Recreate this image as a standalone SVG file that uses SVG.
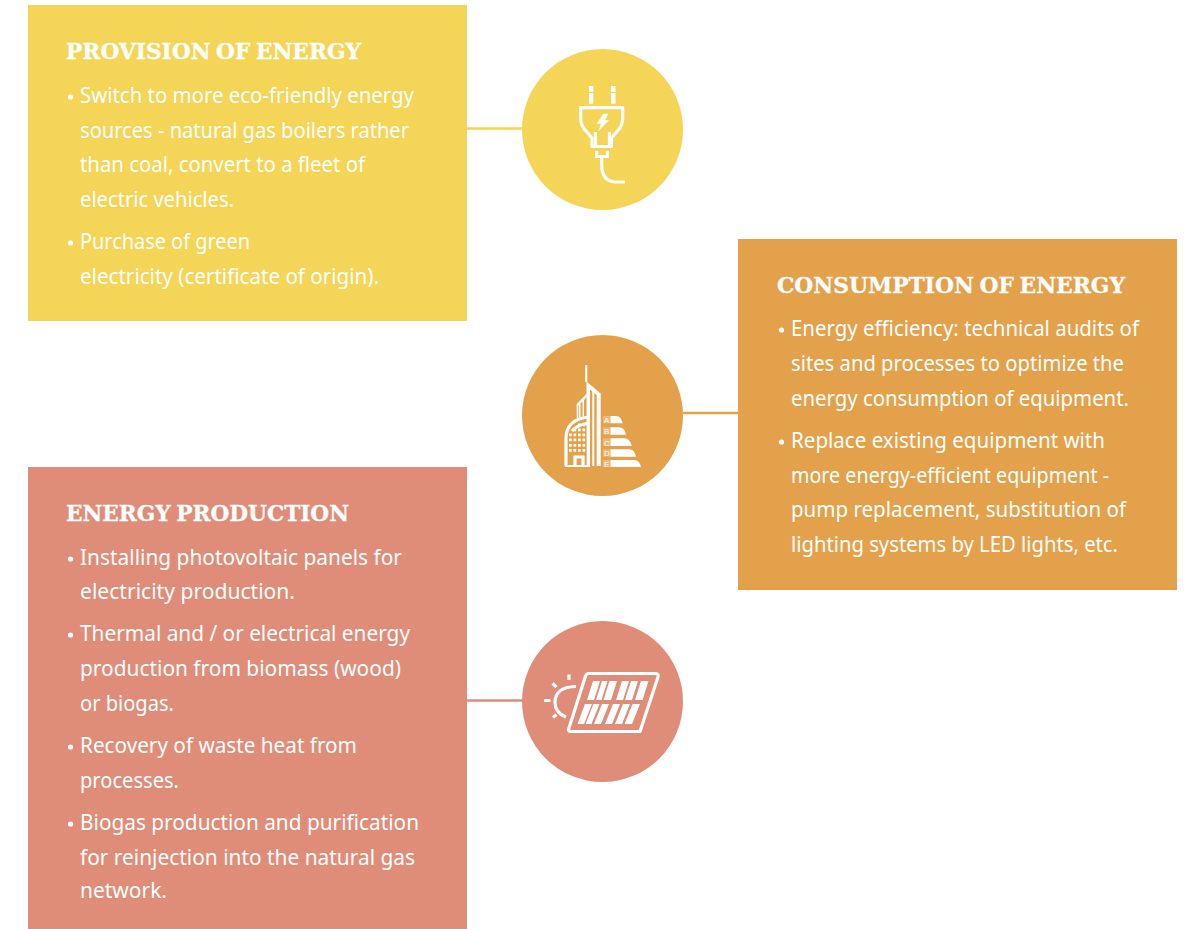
<svg xmlns="http://www.w3.org/2000/svg" width="1187" height="929" viewBox="0 0 1187 929">
<style>
text{fill:#fff}
.h{font-family:"DejaVu Serif",serif;font-weight:700;font-size:21.500px;word-spacing:-2px;stroke:#fff;stroke-width:.3}
.b{font-family:"Noto Sans","Open Sans",sans-serif;font-size:21.500px}
.i{fill:none;stroke:#fff;stroke-width:3.200}
.f{fill:#fff;stroke:none}
.l{font-family:"Liberation Sans",sans-serif;font-size:8px;fill:#fff}
.d{fill:#fff}
</style>
<rect width="1187" height="929" fill="#fff"/>
<g id="connectors">
<line x1="467" y1="128.500" x2="523" y2="128.500" stroke="#F5D557" stroke-width="2.500"/>
<line x1="683" y1="413" x2="738" y2="413" stroke="#E4A14B" stroke-width="2.500"/>
<line x1="467" y1="700.500" x2="523" y2="700.500" stroke="#DF8D78" stroke-width="2.500"/>
</g>
<g id="provision">
<rect x="28" y="5" width="439" height="316" fill="#F5D557"/>
<text class="h" x="66" y="59" textLength="295" lengthAdjust="spacingAndGlyphs">PROVISION OF ENERGY</text>
<g class="b">
<circle class="d" cx="70.500" cy="97" r="2.600"/>
<text x="80" y="103" textLength="334" lengthAdjust="spacingAndGlyphs">Switch to more eco-friendly energy</text>
<text x="80" y="138" textLength="329" lengthAdjust="spacingAndGlyphs">sources - natural gas boilers rather</text>
<text x="80" y="172" textLength="285" lengthAdjust="spacingAndGlyphs">than coal, convert to a fleet of</text>
<text x="80" y="207" textLength="154" lengthAdjust="spacingAndGlyphs">electric vehicles.</text>
<circle class="d" cx="70.500" cy="243" r="2.600"/>
<text x="80" y="249" textLength="170" lengthAdjust="spacingAndGlyphs">Purchase of green</text>
<text x="80" y="284" textLength="299" lengthAdjust="spacingAndGlyphs">electricity (certificate of origin).</text>
</g>
</g>
<g id="consumption">
<rect x="738" y="239" width="439" height="351" fill="#E4A14B"/>
<text class="h" x="777" y="293" textLength="348" lengthAdjust="spacingAndGlyphs">CONSUMPTION OF ENERGY</text>
<g class="b">
<circle class="d" cx="781.500" cy="330" r="2.600"/>
<text x="791" y="336" textLength="348" lengthAdjust="spacingAndGlyphs">Energy efficiency: technical audits of</text>
<text x="791" y="371" textLength="333" lengthAdjust="spacingAndGlyphs">sites and processes to optimize the</text>
<text x="791" y="406" textLength="338" lengthAdjust="spacingAndGlyphs">energy consumption of equipment.</text>
<circle class="d" cx="781.500" cy="442" r="2.600"/>
<text x="791" y="448" textLength="314" lengthAdjust="spacingAndGlyphs">Replace existing equipment with</text>
<text x="791" y="483" textLength="318" lengthAdjust="spacingAndGlyphs">more energy-efficient equipment -</text>
<text x="791" y="517" textLength="335" lengthAdjust="spacingAndGlyphs">pump replacement, substitution of</text>
<text x="791" y="552" textLength="327" lengthAdjust="spacingAndGlyphs">lighting systems by LED lights, etc.</text>
</g>
</g>
<g id="production">
<rect x="28" y="467" width="439" height="462" fill="#DF8D78"/>
<text class="h" x="66" y="521" textLength="283" lengthAdjust="spacingAndGlyphs">ENERGY PRODUCTION</text>
<g class="b">
<circle class="d" cx="70.500" cy="559" r="2.600"/>
<text x="80" y="565" textLength="322" lengthAdjust="spacingAndGlyphs">Installing photovoltaic panels for</text>
<text x="80" y="599" textLength="215" lengthAdjust="spacingAndGlyphs">electricity production.</text>
<circle class="d" cx="70.500" cy="635" r="2.600"/>
<text x="80" y="641" textLength="330" lengthAdjust="spacingAndGlyphs">Thermal and / or electrical energy</text>
<text x="80" y="676" textLength="321" lengthAdjust="spacingAndGlyphs">production from biomass (wood)</text>
<text x="80" y="711" textLength="94" lengthAdjust="spacingAndGlyphs">or biogas.</text>
<circle class="d" cx="70.500" cy="747" r="2.600"/>
<text x="80" y="753" textLength="277" lengthAdjust="spacingAndGlyphs">Recovery of waste heat from</text>
<text x="80" y="788" textLength="99" lengthAdjust="spacingAndGlyphs">processes.</text>
<circle class="d" cx="70.500" cy="824" r="2.600"/>
<text x="80" y="830" textLength="339" lengthAdjust="spacingAndGlyphs">Biogas production and purification</text>
<text x="80" y="865" textLength="335" lengthAdjust="spacingAndGlyphs">for reinjection into the natural gas</text>
<text x="80" y="898" textLength="87" lengthAdjust="spacingAndGlyphs">network.</text>
</g>
</g>
<g id="plug-icon">
<circle cx="602.500" cy="129.500" r="80.500" fill="#F5D557"/>
<path class="f" d="M589 86h4.300v6H589zM589 93h4.300v10.700H589zM611 86h4.500v6H611zM611 93h4.500v10.700H611z"/>
<path class="i" stroke-linejoin="round" d="M580.700 107.700H622.700V118Q622.700 126 617 131.500L611.500 138V146.500H592V138L586.500 131.500Q580.700 126 580.700 118Z"/>
<path class="i" stroke-width="2" d="M595.500 132V145M609.500 132V145"/>
<path class="f" d="M603.300 113.700H608.300L605 120.300H609L598.300 131.300L601 123.700H596.700Z"/>
<path class="i" d="M596.700 151V156.500H607.300V151M601.700 157V165Q601.700 182 617 182H625"/>
</g>
<g id="building-icon">
<circle cx="602.500" cy="415.500" r="80.500" fill="#E4A14B"/>
<path class="f" d="M585.200 365H587.300V382H585.200Z"/>
<path class="f" d="M586.500 381.500L600.700 393.500V466H596.700V395L590 389.500V466H586.700Z"/>
<rect class="f" x="592.300" y="391" width="2" height="75"/>
<path class="f" d="M576.700 404L586.700 393.500V397L584 400V416H582.500V401.500L580.500 403.500V417H579V405L578.300 406V418H576.700Z"/>
<path class="i" stroke-width="2.300" d="M566 466V439Q566 419 589 417"/>
<path class="i" stroke-width="1.800" d="M590 423Q578 424 572 431"/>
<path class="f" d="M565 465H590V467H565Z"/>
<path class="f" d="M578 423.500h2.700v2.700h-2.700zM582.500 423.500h2.700v2.700h-2.700zM573.500 428.500h2.700v2.700h-2.700zM578 428.500h2.700v2.700h-2.700zM582.500 428.500h2.700v2.700h-2.700zM569 433.500h2.700v2.700H569zM573.500 433.500h2.700v2.700h-2.700zM578 433.500h2.700v2.700h-2.700zM582.500 433.500h2.700v2.700h-2.700zM569 438.500h2.700v2.700H569zM573.500 438.500h2.700v2.700h-2.700zM578 438.500h2.700v2.700h-2.700zM582.500 438.500h2.700v2.700h-2.700zM569 444h2.700v2.700H569zM573.500 444h2.700v2.700h-2.700zM578 444h2.700v2.700h-2.700zM582.500 444h2.700v2.700h-2.700zM569 449h2.700v2.700H569zM573.500 449h2.700v2.700h-2.700zM578 449h2.700v2.700h-2.700zM582.500 449h2.700v2.700h-2.700z"/>
<path class="i" stroke-width="2" d="M575 466V457H583V466"/>
<path class="f" d="M610.500 416H616Q621 416 622.700 423.300H610.500ZM610.500 427.300H619Q624.500 427.300 626 434.700H610.500ZM610.500 438.300H624Q630 438.300 631.700 446H610.500ZM610.500 449.300H629Q634.500 449.300 636 456.700H610.500ZM610.500 460H634Q639.500 460 641 467H610.500Z"/>
<path class="f" opacity=".25" d="M603 416H610.500V423.300H603ZM603 427.300H610.500V434.700H603ZM603 438.300H610.500V446H603ZM603 449.300H610.500V456.700H603ZM603 460H610.500V467H603Z"/>
<text class="l" x="604" y="423">A</text>
<text class="l" x="604" y="434.300">B</text>
<text class="l" x="604" y="445.500">C</text>
<text class="l" x="604" y="456.300">D</text>
<text class="l" x="604" y="466.700">E</text>
</g>
<g id="solar-icon">
<circle cx="602.500" cy="701.500" r="80.500" fill="#DF8D78"/>
<path class="i" stroke-width="3.500" stroke-linejoin="round" d="M589 673.500H655Q659 673.500 658 677L640 731.500H570.500Q568 731.500 568.700 729L585.500 676Q586.500 673.500 589 673.500Z"/>
<path class="f" d="M593 681H600L594 700H587ZM602 681H607.500L601.500 700H596ZM609.500 681H617L611 700H603.500ZM622 681H629L623 700H616ZM631 681H638L632 700H625ZM641 681H648.500L642.500 700H635ZM585 704H592L584 724H577.500ZM593.500 704H599.500L591.500 724H585.500ZM602 704H609L601 724H594ZM613 704H620L612 724H605ZM623 704H630L622 724H615ZM632.500 704H640L632 724H624.500Z"/>
<path class="i" d="M576 686.500Q555 687 555 702.500Q555 713 566 717"/>
<path class="i" d="M569 674.500V680M552.500 683.500L556.500 687M544 700.500H550.500M556.500 714.500L553 717.500"/>
</g>
</svg>
